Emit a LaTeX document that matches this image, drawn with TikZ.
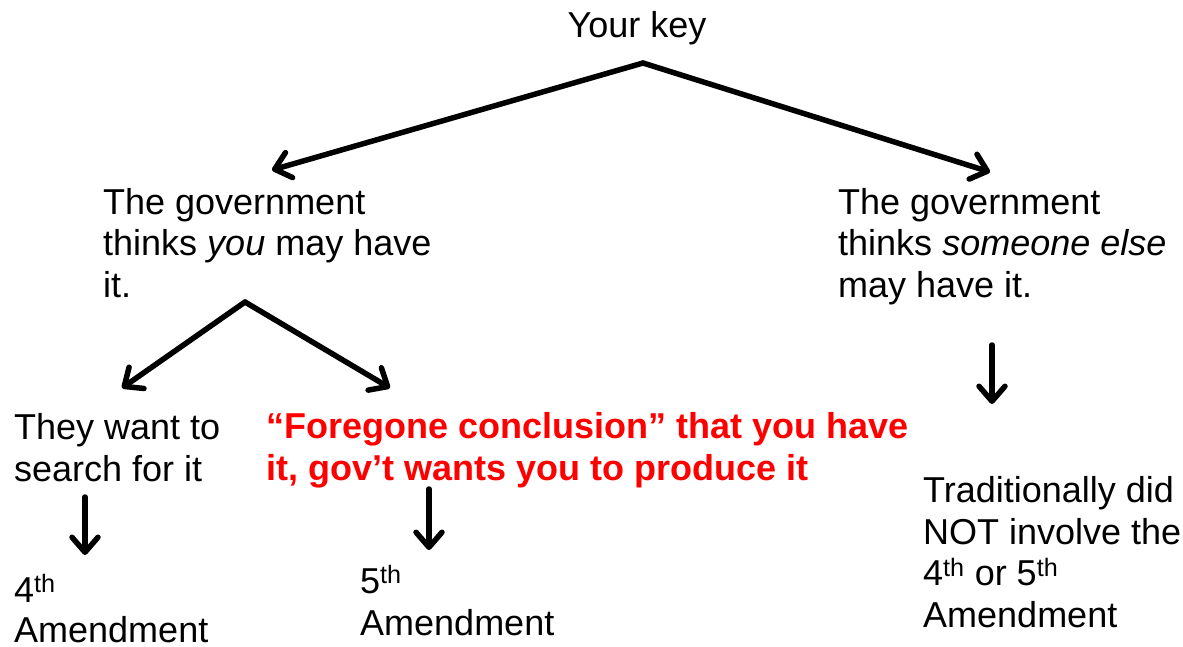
\documentclass[tikz,border=0pt]{standalone}
\usepackage{fontspec}
\setmainfont{Liberation Sans}
\usetikzlibrary{arrows.meta}
\begin{document}
\begin{tikzpicture}[x=1pt,y=-1pt,
  txt/.style={font=\fontsize{36}{41.5}\selectfont, align=left, anchor=base west, inner sep=0pt},
  redtxt/.style={txt, text=red, font=\fontsize{36}{41.5}\selectfont\bfseries},
  conn/.style={line width=5.5pt, line cap=round, line join=round,
    -{Straight Barb[length=15pt,width=26pt,line cap=round,line join=round]}}]
\useasboundingbox (0,0) rectangle (1183,646);
\fill[white] (0,0) rectangle (1183,646);

% anchor "base" of a multi-line node = baseline of its last line
\node[txt, anchor=base] (key) at (637,37) {Your key};
\node[txt] (you) at (103,297) {The government\\thinks \textit{you} may have\\it.};
\node[txt] (else) at (838,297) {The government\\thinks \textit{someone else}\\may have it.};
\node[txt] (search) at (14,481) {They want to\\search for it};
\node[redtxt] (fore) at (266,480) {“Foregone conclusion” that you have\\it, gov’t wants you to produce it};
\node[txt] (a4) at (14,642) {4\textsuperscript{th}\\[-1.5pt]Amendment};
\node[txt] (a5) at (360,635) {5\textsuperscript{th}\\[0.5pt]Amendment};
\node[txt] (trad) at (923,627) {Traditionally did\\NOT involve the\\4\textsuperscript{th} or 5\textsuperscript{th}\\Amendment};

\coordinate (kApex) at (643,63);
\coordinate (youTip) at (272,170);
\coordinate (elseTip) at (990,172);
\coordinate (vApex) at (245,302);
\coordinate (searchTip) at (122,388);
\coordinate (foreTip) at (390,388);
\coordinate (elseTop) at (992,345);
\coordinate (elseBot) at (992,404);
\coordinate (sTop) at (85,497);
\coordinate (sBot) at (85,555);
\coordinate (fTop) at (429,489);
\coordinate (fBot) at (429,550);

\draw[conn] (kApex) -- (youTip);
\draw[conn] (kApex) -- (elseTip);
\draw[conn] (vApex) -- (searchTip);
\draw[conn] (vApex) -- (foreTip);
\draw[conn] (elseTop) -- (elseBot);
\draw[conn] (sTop) -- (sBot);
\draw[conn] (fTop) -- (fBot);
\end{tikzpicture}
\end{document}
